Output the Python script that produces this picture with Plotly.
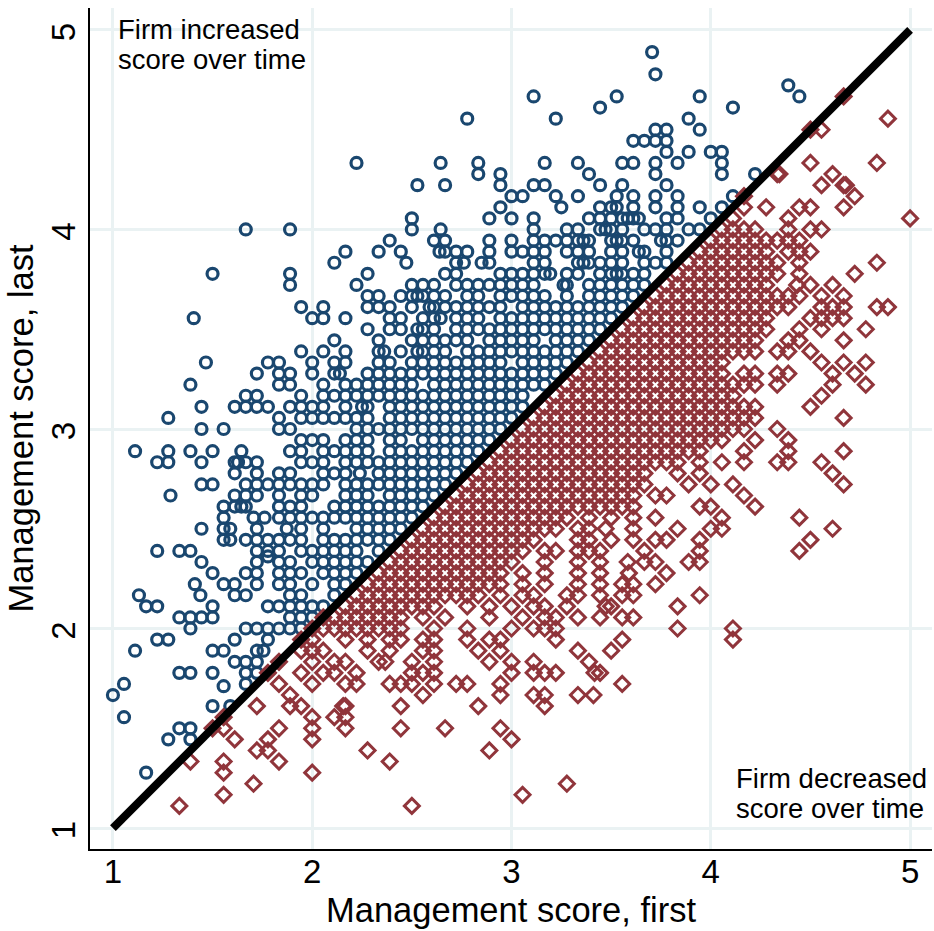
import plotly.graph_objects as go

# Scores move in steps of 1/18. Each row: one "last" step and the "first" steps seen on it.
increased_last_steps = [70,68,67,66,65,64,63,62,61,60,59,58,57,56,55,54,53,52,51,50,49,48,47,46,45,44,43,42,41,40,39,38,37,36,35,34,33,32,31,30,29,28,27,26,25,24.5,24,23,22,21,20,19,18,17,16,15,14,13,12.8,12,11,10,9,8,5]
increased_first_steps = [
 [48.7],[49],[61],[38,45.5,53,62],[44,56],[32,40,52],[49,50,53],[47,48,49,50],[50,52,54,55],
 [22,29.6,33,39,42,46,47,49,51,55],
 [33,35,43,49,55,58],
 [27.5,30,35,38,39,44,46,50],
 [36,37,40,42,45.5,47,49,51,56],
 [35,40.5,44,45,45.5,47,49,51,53,55],
 [27,34,36,38,43,44,45,46,46.5,47,47.5,50,51,54],
 [12,16,27,29.6,38,41,42,44,44.5,45,46,48,49,50,52,53],
 [25,29,30,34,36,38,39,40,41,42,42.5,43,45,45.5,46,47,49.5,50,51],
 [21,24,26,29.5,30,31,32,34,36,37,38,39,41,42,43,45,46,47.5,48,50],
 [20,26.5,31,31.7,33.3,34,38,39,42,42.5,43,44,45,46,48,49,50],
 [9,16,23,30,31,35,36,37,38,39,39.5,41,42,44,45,45.5,46,47,48],
 [16,22,27,28,29,31,32,33,34,35,36,37,38,40.7,41,43,44,45,46,47,48],
 [23,24,26,27,27.5,28,29,30,32,33,35,36,37,38,39,41,43,44,45,46,47],
 [17,19,23,24,25,27,28.6,29,30,31,32,33,34,35,37,38,39,40,41,42,43,44,45,46],
 [7.3,18,19,21,25,26,28,29,29.6,31,32,33,35,36,37,38,39,40,41,42,43,44,45],
 [23,25,26,27.5,28,29,31,32,33,34,35,36,37,38,39,40,41,42,43,44],
 [20,24,27,28,29,30,31,32,34,35,36,37,38,40,41,42,43],
 [17,19,21,24,24.5,26,27.5,28,29,30,32,33,34,35,36,37,38,39,40,41,42],
 [8.4,14,15,18,20,21,24,25,27,28,29,30,31,32,33,34,35,37,38,39,40,41],
 [13,15,16,18,20,20.5,23,24,25,26,27,28,29,30,31,32,33,34,35,36,37,38,39,40],
 [7,15,16,19,21,22,23,24,25,26,27,29,30,31,32,33,34,35,36,37,38,39],
 [12,13,17,19,20,21,22,23,24,25,26,27,28,29,30,31,32,33,34,35,36,37],
 [8,11,12,13,14,16,17,18,19,21,22.5,23,25,26,27,28,29,30,31,32,33,34,35,36,37],
 [5,15,17,18,19,20,21,22,23,25,26,27,28,29,30,31,32,33,34,35,36],
 [8,10,15,16,22,23,24,25,26,27,28,29,30,31,32,33,34,35],
 [17,18,19,21,22,23,25,26,28,29,30,31,32,33,34],
 [2,5,7,9,11.6,16,17,19,20,21,22,23,25,26,27,28,29,30,31,32,33],
 [4,5,8,11,11.3,12,13,17,18,19,21,22,23,24,25,26,27,28,29,30,31,32],
 [11,13,15,16,19,20,21,22.3,24,25,26,27,28,29,30,31],
 [8,9,12,13,14,15,16,17,18,19,21,22,23,24,25,26,27,28,29,30],
 [5.2,11,12,13,15,17,18,21,22,23,25,26,27,28,29],
 [10,11,11.6,12,15,16,17,20,21,22,23,24,25,26,27,28],
 [10,12.7,13.7,15,16,17,18,19,20,21,22,23,24,25,26,27],
 [8,10,10.6,13,15.7,17,19,22,23,24,25,26],
 [10,10.6,12,13,14,15,16,17,19,20,21,22,23,24,25],
 [4,6,7,13,14,15,17,18,19,20,21,22,24],
 [14],
 [8,13,15,16,18,19,20,21,22,23],
 [9,12,13,15,16,17,19,20,21,22],
 [7.4,10,11,13,15,16,18,20,21],
 [2.35,7.9,11,12,16,17,20],
 [3,4,9,14,15,16,17,18,19],
 [6,7,8,9,16,17,18],
 [7,12,13,14,15,16,17],
 [4,5,11,14],
 [2,9,10,13,13.6],
 [11,12,13],
 [6,7,9,12,13],
 [1,12],[10],[0],[9,10.6],[1],[6,7],[5,7],[3],
]

decreased_last_steps = [66,64,63,60,59,58,57,56,55,54,53,52,51,50,49,48,47,46,45,44,43,42,41,40,39,38,37,36,35,34,33,32,31,30,29,28,27,26,25,24,23,22,21,20,19,18,17,16,15,14,13,12,11,10,9,8,7,6,5,4,3,2]
decreased_first_steps = [
 [66],[70],[63,64],[63,69],[60,60.2,65],[64,66,66.2],[57,67],[57,59,62,63,66],[56,61,72],
 [55,56,57,58,61,63,64],
 [54,55,56,57,58,59,60,61,62],
 [53,54,55,56,57,58,59,61,62,63],
 [52,53,54,55,56,57,58,59,60,62,69],
 [51,52,53,54,55,56,57,58,59,60,62,67],
 [50,51,52,53,54,55,56,57,58,59,61.8,63,65],
 [49,50,51,52,53,54,55,56,57,58,59,60,61,62,64,66],
 [48,49,50,51,52,53,54,55,56,57,58,59,60,61,64,65,66,69,70],
 [47,48,49,50,51,52,53,54,55,56,57,58,59,63,64,65,66],
 [46,47,48,49,50,51,52,53,54,55,56,57,58,59,62,64,68],
 [45,46,47,48,49,50,51,52,53,54,55,56,57,58,61,62,66],
 [44,45,46,47,48,49,50,51,52,53,54,55,56,57,58,60,61,63],
 [43,44,45,46,47,48,49,50,51,52,53,54,55,64,66,68],
 [42,43,44,45,46,47,48,49,50,51,52,53,54,55,57,58,60,61,65,67],
 [41,42,43,44,45,46,47,48,49,50,51,52,53,54,55,56,57,58,60,65,68],
 [40,41,42,43,44,45,46,47,48,49,50,51,52,53,54,55,56,64],
 [39,40,41,42,43,44,45,46,47,48,49,50,51,52,53,54,55,56,57,58,63],
 [38,39,40,41,42,43,44,45,46,47,48,49,50,51,52,53,54,55,56,57,58,66],
 [37,38,39,40,41,42,43,44,45,46,47,48,49,50,51,52,53,54,55,56,57,60],
 [36,37,38,39,40,41,42,43,44,45,46,47,48,49,50,51,52,53,54,55,58,61],
 [35,36,37,38,39,40,41,42,43,44,45,46,47,48,49,50,51,52,53,57,61,66],
 [34,35,36,37,38,39,40,41,42,43,44,45,46,47,48,49,50,51,53,55,57,60,61,64],
 [33,34,35,36,37,38,39,40,41,42,43,44,45,46,47,48,51,53,65],
 [32,33,34,35,36,37,38,39,40,41,42,43,44,45,46,47,48,52,54,56,66],
 [31,32,33,34,35,36,37,38,39,40,41,42,43,44,45,46,47,49,50,57],
 [30,31,32,33,34,35,36,37,38,39,40,41,42,43,44,45,46,47,53,54,58],
 [29,30,31,32,33,34,35,36,37,38,39,40,41,43,45,47,49,55,62],
 [28,29,30,31,32,33,34,35,36,37,38,39,40,42,43,44.5,47,51,54,55,65],
 [27,28,29,30,31,32,33,34,35,36,37,38,42,43,45,47,49,50,53,63],
 [26,27,28,29,30,31,32,33,34,35,36,37,39,40,42,43,44,48,53,62],
 [25,26,27,28,29,30,31,32,33,34,35,36,39,42,44,46.5,48,49,52,53],
 [24,25,26,27,28,29,30,31,32,33,34,35,37,39,42,44,46.6,50],
 [23,24,25,26,27,28,29,30,31,32,33,34,35,37,39,42,44,46,47,49],
 [22,23,24,25,26,27,28,29,30,31,32,33,35,37,38,41,42,44,46,47,53],
 [21,22,23,24,25,26,27,28,29,32,34,36,38,39,41,44.5,45,51],
 [19,20,21,22,23,24,25,26,28,30,34,37,39,40,42,44,46,47],
 [18,19,20,21,22,23,24,25,26,29,32,36,38,39,40,51,56],
 [17,18,21,23,25,26,28,29,32,34,35,40,46,56],
 [17,18,19,23,25,28,29,33,35,42,45],
 [15,18,20,21,24,24.6,27,29,34,36,38,43],
 [14,17,19,20,22,27,28,29,36,38,39,40,43.5,44],
 [15,18,21,22,25,26,27,29,31,32,35,46],
 [16,28,35,38,39,42,43.4],
 [13,16,17,20.8,21,26,33,39],
 [10,18,20,21],
 [9,10,15,18,21,26,30,35],
 [11,14,18,36],
 [13,14,23,34],
 [7,10,15,25],
 [10,18],
 [12.7,41],
 [10,37],
 [6,27],
]

equal_line = [1, 5]
tick_values = [1, 2, 3, 4, 5]
x_title = "Management score, first"
y_title = "Management score, last"


def to_points(rows, cols):
    xs, ys = [], []
    for last, firsts in zip(rows, cols):
        for first in firsts:
            xs.append(1 + first / 18)
            ys.append(1 + last / 18)
    return xs, ys


BLUE = "#1a476f"
RED = "#90353b"
GRID = "#eaf2f3"
FONT = "Liberation Sans"

fig = go.Figure()
bx, by = to_points(increased_last_steps, increased_first_steps)
rx, ry = to_points(decreased_last_steps, decreased_first_steps)
fig.add_trace(go.Scatter(x=bx, y=by, mode="markers", name="Increased",
                         marker=dict(symbol="circle-open", size=11, color=BLUE, line=dict(width=3.2, color=BLUE))))
fig.add_trace(go.Scatter(x=rx, y=ry, mode="markers", name="Decreased",
                         marker=dict(symbol="diamond-open", size=11.5, color=RED, line=dict(width=3, color=RED))))
fig.add_trace(go.Scatter(x=equal_line, y=equal_line, mode="lines", name="Equal",
                         line=dict(color="black", width=8)))

axis_common = dict(
    tickvals=tick_values, showgrid=True, gridcolor=GRID, gridwidth=2.5, zeroline=False,
    showline=True, linecolor="black", linewidth=2, ticks="",
    tickfont=dict(family=FONT, size=33, color="black"),
)
fig.update_layout(
    width=934, height=931, showlegend=False, plot_bgcolor="white", paper_bgcolor="white",
    margin=dict(l=90, r=2, t=8, b=82),
    xaxis=dict(range=[0.885, 5.11], ticklabelstandoff=-8,
               title=dict(text=x_title, font=dict(family=FONT, size=34.5, color="black"), standoff=9), **axis_common),
    yaxis=dict(range=[0.895, 5.11], tickangle=-90, ticklabelstandoff=0, ticklabelshift=7,
               title=dict(text=y_title, font=dict(family=FONT, size=34.5, color="black"), standoff=1), **axis_common),
)
for text, x, y in [("Firm increased", 1.015, 5.0), ("score over time", 1.015, 4.85),
                   ("Firm decreased", 4.117, 1.25), ("score over time", 4.117, 1.097)]:
    fig.add_annotation(text=text, x=x, y=y, xref="x", yref="y", xanchor="left", yanchor="middle",
                       showarrow=False, font=dict(family=FONT, size=27.5, color="black"))

fig.write_html("out.html", config={"displayModeBar": False},
               post_script="document.body.style.margin='0';document.body.style.overflow='hidden';")
